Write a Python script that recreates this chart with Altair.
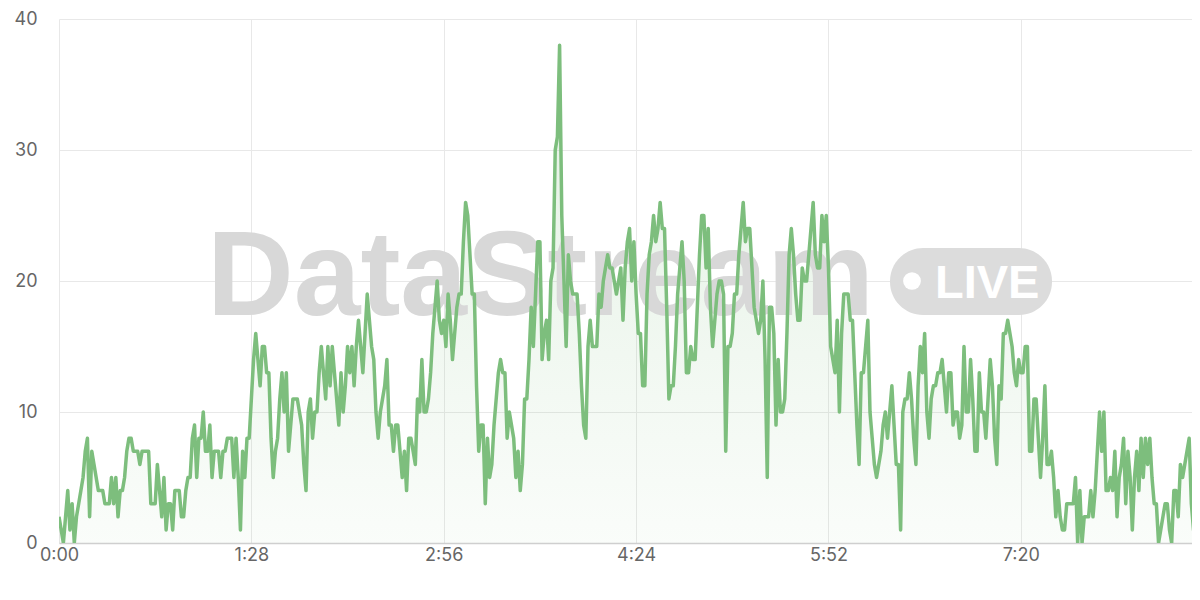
import altair as alt
import pandas as pd

# one value per second (0..522 s)
values = [
    2, 1, 0, 2, 4, 1, 3, 0, 2, 3,
    4, 5, 7, 8, 2, 7, 6, 5, 4, 4,
    4, 3, 3, 3, 5, 3, 5, 2, 4, 4,
    5, 7, 8, 8, 7, 7, 7, 6, 7, 7,
    7, 7, 3, 3, 3, 6, 4, 2, 5, 1,
    3, 3, 1, 4, 4, 4, 2, 2, 4, 5,
    5, 8, 9, 5, 8, 8, 10, 7, 7, 9,
    5, 7, 7, 7, 5, 7, 7, 8, 8, 8,
    5, 8, 5, 1, 7, 5, 8, 8, 11, 14,
    16, 14, 12, 15, 15, 13, 13, 8, 5, 7,
    8, 11, 13, 10, 13, 7, 9, 11, 11, 11,
    10, 9, 6, 4, 10, 11, 8, 10, 10, 13,
    15, 13, 11, 15, 12, 15, 13, 11, 9, 13,
    10, 12, 15, 13, 15, 12, 15, 17, 15, 13,
    16, 19, 17, 15, 14, 10, 8, 10, 11, 12,
    14, 9, 9, 7, 9, 9, 7, 5, 7, 4,
    8, 8, 7, 6, 11, 10, 14, 10, 10, 11,
    13, 16, 18, 20, 17, 16, 17, 15, 19, 17,
    14, 16, 18, 19, 19, 23, 26, 25, 22, 19,
    19, 12, 7, 9, 9, 3, 8, 5, 6, 9,
    11, 13, 14, 13, 13, 8, 10, 9, 8, 5,
    7, 4, 6, 11, 11, 14, 18, 15, 19, 23,
    23, 14, 16, 17, 14, 20, 21, 30, 31, 38,
    25, 20, 15, 22, 20, 19, 19, 19, 16, 12,
    9, 8, 15, 17, 15, 15, 15, 19, 18, 20,
    21, 22, 21, 21, 20, 19, 20, 21, 17, 21,
    23, 24, 20, 23, 19, 16, 16, 12, 12, 19,
    22, 23, 25, 23, 24, 26, 24, 24, 18, 11,
    12, 12, 15, 19, 21, 23, 20, 13, 13, 15,
    14, 14, 18, 22, 25, 25, 21, 24, 18, 15,
    17, 19, 20, 20, 19, 7, 15, 15, 16, 19,
    19, 22, 24, 26, 23, 24, 24, 21, 18, 17,
    16, 17, 20, 14, 5, 18, 18, 16, 9, 14,
    10, 10, 11, 16, 22, 24, 22, 19, 17, 17,
    21, 20, 20, 22, 24, 26, 22, 21, 21, 25,
    23, 25, 21, 15, 14, 13, 17, 10, 16, 19,
    19, 19, 17, 17, 13, 9, 6, 13, 13, 15,
    17, 10, 8, 6, 5, 6, 7, 9, 10, 8,
    10, 12, 9, 6, 6, 1, 10, 11, 11, 13,
    11, 8, 6, 12, 15, 13, 16, 10, 8, 11,
    12, 12, 13, 13, 14, 12, 10, 13, 13, 9,
    10, 10, 8, 9, 15, 10, 10, 14, 11, 7,
    7, 13, 10, 10, 8, 11, 14, 12, 8, 6,
    12, 11, 16, 16, 17, 16, 15, 13, 12, 14,
    13, 13, 15, 15, 7, 7, 11, 11, 8, 5,
    8, 12, 6, 6, 7, 5, 2, 4, 2, 1,
    1, 3, 3, 3, 3, 5, 0, 4, 0, 2,
    2, 2, 4, 2, 4, 7, 10, 7, 10, 4,
    4, 5, 4, 7, 2, 5, 6, 8, 3, 7,
    5, 1, 5, 7, 4, 8, 5, 8, 6, 8,
    5, 3, 3, 0, 1, 2, 3, 3, 1, 0,
    4, 4, 2, 6, 5, 6, 7, 8, 3, 1,
    3, 3, 3,
]
seconds = list(range(len(values)))
x_ticks = [0, 88, 176, 264, 352, 440]
y_ticks = [0, 10, 20, 30, 40]
x_domain_end = 518.3  # visible window (the reference is cut at the page edge)
watermark_text = "DataStream"
badge_text = "LIVE"

df = pd.DataFrame({"t": seconds, "v": values})
one = pd.DataFrame({"k": [0]})

label_expr = ("floor(datum.value / 60) + ':' + "
              "(datum.value % 60 < 10 ? '0' : '') + (datum.value % 60)")

x_enc = alt.X(
    "t:Q",
    scale=alt.Scale(domain=[0, x_domain_end], nice=False, zero=False),
    axis=alt.Axis(values=x_ticks, labelExpr=label_expr, title=None,
                  grid=True, gridColor="#e8e8e8", gridWidth=1,
                  domain=True, domainColor="#cfcfcf", domainWidth=1.5,
                  ticks=False, labelFlush=False, labelPadding=3,
                  labelFontSize=18, labelColor="#666666", labelFont="Inter"),
)
y_enc = alt.Y(
    "v:Q",
    scale=alt.Scale(domain=[0, 40], nice=False),
    axis=alt.Axis(values=y_ticks, title=None, grid=True, gridColor="#e8e8e8",
                  gridWidth=1, domain=False, ticks=False, labelFlush=False,
                  labelPadding=22, labelFontSize=18, labelColor="#666666",
                  labelFont="Inter"),
)

area = alt.Chart(df).mark_area(
    interpolate="linear", clip=True,
    color=alt.Gradient(
        gradient="linear", x1=0, x2=0, y1=0, y2=1,
        stops=[alt.GradientStop(color="rgba(125,190,125,0.22)", offset=0),
               alt.GradientStop(color="rgba(125,190,125,0.04)", offset=1)],
    ),
).encode(x=x_enc, y=y_enc)

wm = alt.Chart(one).mark_text(
    text=watermark_text, font="Liberation Sans", fontWeight="bold",
    fontSize=120, color="#d8d8d8", align="left", baseline="alphabetic",
).encode(x=alt.value(148), y=alt.value(296))

pill = alt.Chart(one).mark_rect(cornerRadius=33, color="#dcdcdc").encode(
    x=alt.value(831), x2=alt.value(993), y=alt.value(229), y2=alt.value(296)
)
dot = alt.Chart(one).mark_circle(size=314, color="white", opacity=1).encode(
    x=alt.value(853), y=alt.value(262)
)
live = alt.Chart(one).mark_text(
    text=badge_text, font="Liberation Sans", fontWeight="bold", fontSize=47,
    color="white", align="left", baseline="alphabetic",
).encode(x=alt.value(876), y=alt.value(279))

line = alt.Chart(df).mark_line(
    color="#7dbe7d", strokeWidth=3.5, strokeJoin="round", interpolate="linear",
    clip=True,
).encode(x=x_enc, y=y_enc)

chart = alt.layer(area, wm, pill, dot, live, line).properties(
    width=1133, height=524,
    autosize=alt.AutoSizeParams(type="none"),
    padding={"left": 51, "top": 11, "right": 0, "bottom": 40},
).configure_view(stroke=None)

chart.save("out.html", embed_options={"renderer": "svg", "actions": False})
